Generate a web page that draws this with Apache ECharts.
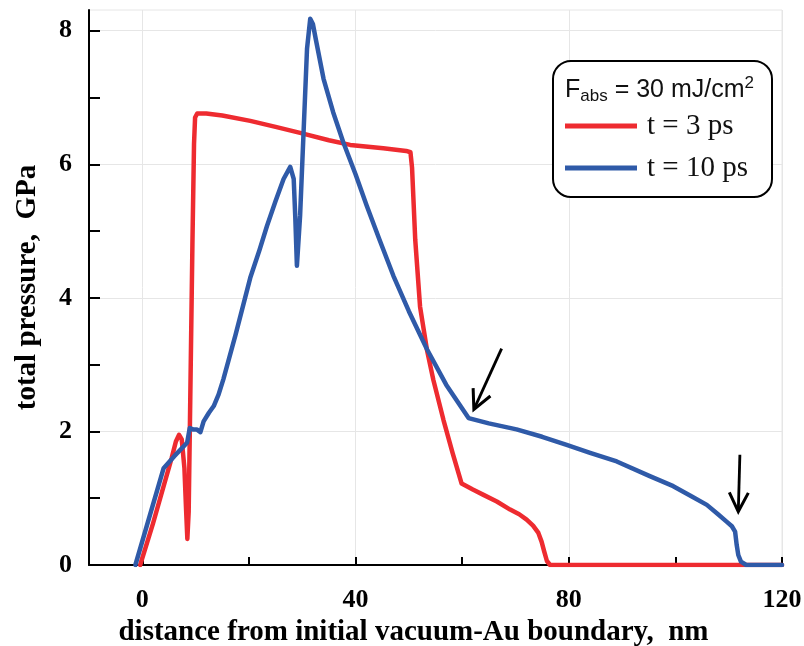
<!DOCTYPE html>
<html>
<head>
<meta charset="utf-8">
<script src="https://cdn.jsdelivr.net/npm/echarts@6/dist/echarts.min.js"></script>
<style>
  html, body { margin: 0; padding: 0; background: #fff; }
  #chart { width: 804px; height: 646px; }
</style>
</head>
<body>
<div id="chart"></div>
<script>
// Pressure profiles, F_abs = 30 mJ/cm^2
const seriesNames = ['t = 3 ps', 't = 10 ps'];

const distance3ps = [-0.4, 2, 4, 5.5, 6.3, 6.9, 7.4, 7.9, 8.2, 8.45, 8.7, 9.0, 9.4, 9.7, 9.9, 10.3, 12, 15, 20.25, 25, 29.6, 35, 39, 45.2, 49.5, 50.3, 50.6, 51.2, 52.1, 53.4, 54.6, 56.5, 58.2, 59.9, 62, 64.0, 66.5, 69.0, 70.7, 72.1, 73.3, 74.3, 74.9, 75.4, 75.9, 76.5, 120];
const pressure3ps = [0, 0.62, 1.18, 1.6, 1.85, 1.95, 1.88, 1.45, 0.85, 0.39, 0.8, 2.5, 4.8, 6.3, 6.7, 6.76, 6.76, 6.73, 6.65, 6.56, 6.47, 6.36, 6.29, 6.24, 6.2, 6.18, 5.95, 4.87, 3.87, 3.22, 2.77, 2.17, 1.68, 1.22, 1.13, 1.05, 0.95, 0.83, 0.76, 0.68, 0.59, 0.48, 0.35, 0.2, 0.06, 0, 0];

const distance10ps = [-1.3, 4.0, 6.0, 8.4, 8.9, 9.5, 10.2, 10.9, 11.5, 12.5, 13.4, 14.3, 15.2, 17.5, 20.25, 22, 23.4, 25, 26.5, 27.75, 28.4, 28.7, 29.0, 29.6, 30.25, 30.9, 31.5, 32.0, 32.6, 34.0, 35.8, 37.7, 40, 42.1, 44.5, 47.1, 50, 53.4, 57, 61.2, 65, 70.2, 75, 79.6, 84, 89.0, 95.2, 99.6, 103, 105.9, 108, 109.6, 110.6, 111.2, 111.5, 111.8, 112.3, 113.3, 120];
const pressure10ps = [0, 1.45, 1.63, 1.83, 2.05, 2.03, 2.03, 1.99, 2.15, 2.28, 2.38, 2.55, 2.78, 3.45, 4.30, 4.72, 5.08, 5.45, 5.78, 5.96, 5.78, 5.2, 4.48, 5.23, 6.48, 7.73, 8.18, 8.1, 7.85, 7.28, 6.78, 6.33, 5.85, 5.38, 4.87, 4.33, 3.8, 3.23, 2.7, 2.20, 2.12, 2.03, 1.92, 1.80, 1.68, 1.55, 1.33, 1.18, 1.03, 0.90, 0.76, 0.65, 0.58, 0.5, 0.3, 0.15, 0.05, 0, 0];

// axis ticks and labels
const xTickValues = [0, 20, 40, 60, 80, 100, 120];
const xLabelValues = [0, 40, 80, 120];
const yTickValues = [0, 1, 2, 3, 4, 5, 6, 7, 8];
const yLabelValues = [0, 2, 4, 6, 8];

// arrows marking the wave features of the 10 ps profile: [tail, tip]
const arrowKnee = [[67.4, 3.24], [62.2, 2.33]];
const arrowFront = [[112.1, 1.65], [111.8, 0.80]];

const serif = '"Liberation Serif", "Times New Roman", serif';
const sans = '"Liberation Sans", Arial, sans-serif';
const gridColor = '#e6e6e6';
const red = '#ee2b30';
const blue = '#2f5aa8';

const pairs = (xs, ys) => xs.map((x, i) => [x, ys[i]]);

const chart = echarts.init(document.getElementById('chart'));

const tickLabelStyle = { fontFamily: serif, fontWeight: 'bold', fontSize: 26, color: '#000' };
const nameStyle = { fontFamily: serif, fontWeight: 'bold', fontSize: 29, color: '#000' };

const legendBox = [{
  type: 'rect', z: 5,
  shape: { x: 553, y: 61, width: 219, height: 136, r: 18 },
  style: { fill: '#fff', stroke: '#000', lineWidth: 2 }
}, {
  type: 'text', z: 7, x: 565, y: 90,
  style: {
    text: '{m|F}{sub|abs}{m| = 30 mJ/cm}{sup|2}',
    verticalAlign: 'middle',
    rich: {
      m: { fontFamily: sans, fontSize: 25, lineHeight: 30, verticalAlign: 'middle', fill: '#111' },
      sub: { fontFamily: sans, fontSize: 17, lineHeight: 14, verticalAlign: 'bottom', fill: '#111' },
      sup: { fontFamily: sans, fontSize: 17, lineHeight: 22, verticalAlign: 'top', fill: '#111' }
    }
  }
}];

chart.setOption({
  animation: false,
  grid: {
    left: 89, right: 22, top: 10, bottom: 81,
    outerBoundsMode: 'none', containLabel: false,
    show: true, borderColor: gridColor, borderWidth: 1
  },
  xAxis: [{
    type: 'value', min: -10, max: 120, position: 'bottom',
    axisLine: { show: true, onZero: false, lineStyle: { color: '#000', width: 2 } },
    axisTick: { show: true, inside: true, length: 8, customValues: xTickValues, lineStyle: { color: '#000', width: 2 } },
    axisLabel: Object.assign({ customValues: xLabelValues, margin: 22 }, tickLabelStyle),
    splitLine: { show: false },
    name: 'distance from initial vacuum-Au boundary,  nm',
    nameLocation: 'middle', nameGap: 49,
    nameTextStyle: Object.assign({ padding: [0, 44, 0, 0] }, nameStyle)
  }, {
    type: 'value', min: -10, max: 120, position: 'top',
    axisLine: { show: false },
    axisTick: { show: false, customValues: xLabelValues },
    axisLabel: { show: false, customValues: xLabelValues },
    splitLine: { show: true, lineStyle: { color: gridColor, width: 1 } }
  }],
  yAxis: [{
    type: 'value', min: 0, max: 8.31, position: 'left',
    axisLine: { show: true, onZero: false, lineStyle: { color: '#000', width: 2 } },
    axisTick: { show: true, inside: true, length: 11, customValues: yTickValues, lineStyle: { color: '#000', width: 2 } },
    axisLabel: Object.assign({ customValues: yLabelValues, margin: 17 }, tickLabelStyle),
    splitLine: { show: false },
    name: 'total pressure,  GPa',
    nameLocation: 'middle', nameGap: 47, nameRotate: 90,
    nameTextStyle: nameStyle
  }, {
    type: 'value', min: 0, max: 8.31, position: 'right',
    axisLine: { show: false },
    axisTick: { show: false, customValues: yLabelValues },
    axisLabel: { show: false, customValues: yLabelValues },
    splitLine: { show: true, lineStyle: { color: gridColor, width: 1 } }
  }],
  legend: {
    data: seriesNames,
    orient: 'vertical', left: 565, top: 111, padding: 0,
    itemWidth: 72, itemHeight: 5, itemGap: 12, icon: 'rect',
    z: 6,
    textStyle: { fontFamily: serif, fontSize: 29, color: '#111', lineHeight: 30, padding: [0, 0, 0, 5] }
  },
  graphic: legendBox,
  series: [{
    name: seriesNames[0], type: 'line', z: 2,
    data: pairs(distance3ps, pressure3ps),
    showSymbol: false, symbol: 'none',
    lineStyle: { color: red, width: 4.5, cap: 'round', join: 'round' },
    itemStyle: { color: red }
  }, {
    name: seriesNames[1], type: 'line', z: 3,
    data: pairs(distance10ps, pressure10ps),
    showSymbol: false, symbol: 'none',
    lineStyle: { color: blue, width: 4.5, cap: 'round', join: 'round' },
    itemStyle: { color: blue }
  }]
});

// Arrow annotations, placed through the chart's own coordinate system
function arrowShapes(arrow) {
  const tail = chart.convertToPixel({ xAxisIndex: 0, yAxisIndex: 0 }, arrow[0]);
  const tip = chart.convertToPixel({ xAxisIndex: 0, yAxisIndex: 0 }, arrow[1]);
  const dx = tip[0] - tail[0], dy = tip[1] - tail[1];
  const len = Math.hypot(dx, dy);
  const ux = dx / len, uy = dy / len;
  const nx = -uy, ny = ux;
  const headLen = 19, headHalf = 9.5;
  const bx = tip[0] - ux * headLen, by = tip[1] - uy * headLen;
  const style = { stroke: '#000', lineWidth: 3, fill: null, lineJoin: 'miter', lineCap: 'butt' };
  return [{
    type: 'line', z: 8,
    shape: { x1: tail[0], y1: tail[1], x2: tip[0] - ux * 2, y2: tip[1] - uy * 2 },
    style: Object.assign({}, style, { lineWidth: 2.8 })
  }, {
    type: 'polyline', z: 8,
    shape: { points: [[bx + nx * headHalf, by + ny * headHalf], [tip[0], tip[1]], [bx - nx * headHalf, by - ny * headHalf]] },
    style: style
  }];
}

chart.setOption({
  graphic: legendBox.concat(arrowShapes(arrowKnee), arrowShapes(arrowFront))
});
</script>
</body>
</html>
